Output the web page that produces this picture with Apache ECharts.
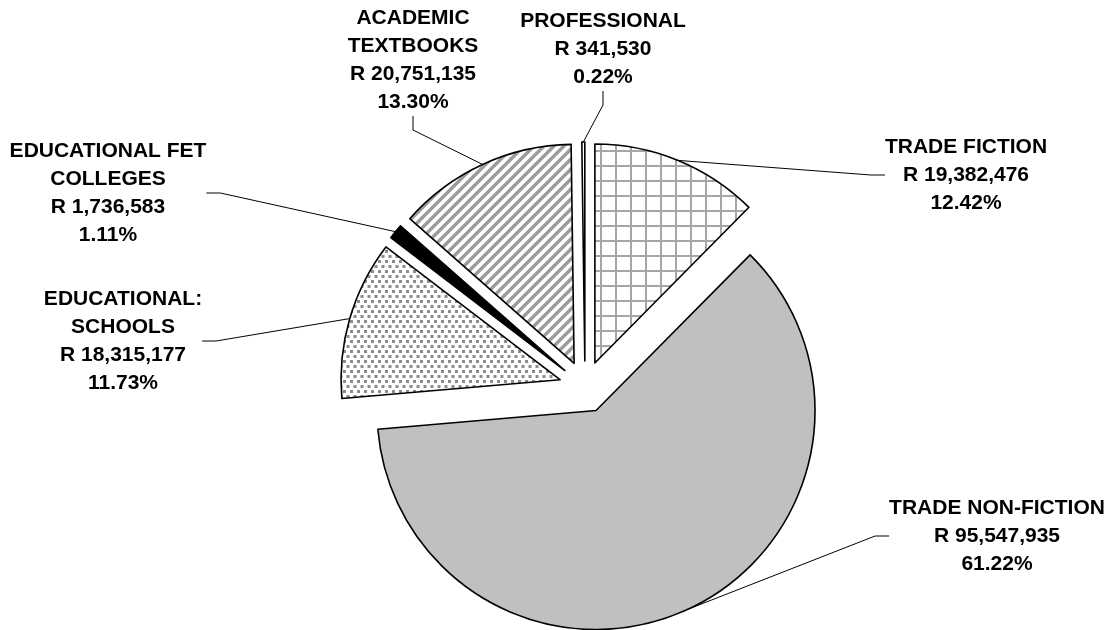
<!DOCTYPE html>
<html>
<head>
<meta charset="utf-8">
<script src="https://cdn.jsdelivr.net/npm/echarts@6/dist/echarts.min.js"></script>
<style>
html,body{margin:0;padding:0;background:#fff;}
#chart{width:1112px;height:630px;}
</style>
</head>
<body>
<div id="chart"></div>
<script>
// ---- data ----
var categories = ['TRADE FICTION', 'TRADE NON-FICTION', 'EDUCATIONAL:\nSCHOOLS', 'EDUCATIONAL FET\nCOLLEGES', 'ACADEMIC\nTEXTBOOKS', 'PROFESSIONAL'];
var values = [19382476, 95547935, 18315177, 1736583, 20751135, 341530];

// ---- styles (patterns) ----
function makeTile(w, h, draw) {
  var c = document.createElement('canvas');
  c.width = w; c.height = h;
  var ctx = c.getContext('2d');
  ctx.fillStyle = '#fff';
  ctx.fillRect(0, 0, w, h);
  draw(ctx, w, h);
  return { image: c, repeat: 'repeat' };
}
var gridPattern = makeTile(15, 15, function (ctx, w, h) {
  ctx.fillStyle = '#a6a6a6';
  ctx.fillRect(0, 0, 2, h);
  ctx.fillRect(0, 0, w, 2);
});
var dotPattern = makeTile(7, 10, function (ctx) {
  ctx.fillStyle = '#8c8c8c';
  ctx.fillRect(0, 0, 3, 3);
  ctx.fillRect(3.5, 5, 3, 3);
});
var stripePattern = makeTile(10, 10, function (ctx) {
  ctx.strokeStyle = '#9c9c9c';
  ctx.lineWidth = 3.4;
  ctx.beginPath();
  ctx.moveTo(-5, 15); ctx.lineTo(15, -5);
  ctx.moveTo(-15, 15); ctx.lineTo(5, -5);
  ctx.moveTo(5, 15); ctx.lineTo(25, -5);
  ctx.stroke();
});
var fills = [gridPattern, '#c0c0c0', dotPattern, '#000000', stripePattern, '#ffffff'];

// layout
var pieCenter = [585, 387];
var pieRadius = 219;
var explode = 26;
var labelPos = [[966, 175], [997, 536], [123, 341], [108, 193], [413, 60], [603, 49]];

var total = values.reduce(function (a, b) { return a + b; }, 0);
var cum = 0;
var midAngles = values.map(function (v) {
  var m = (cum + v / 2) / total * 2 * Math.PI;
  cum += v;
  return m;
});

var labelStyle = {
  show: true,
  position: 'outside',
  color: '#000',
  fontFamily: 'Liberation Sans, Arial, sans-serif',
  fontWeight: 'bold',
  fontSize: 21,
  lineHeight: 28,
  align: 'center',
  formatter: function (p) {
    return p.name + '\nR ' + p.value.toLocaleString('en-US') + '\n' + (p.value / total * 100).toFixed(2) + '%';
  }
};

var series = categories.map(function (_, k) {
  var data = categories.map(function (n, i) {
    var own = i === k;
    return {
      name: n,
      value: values[i],
      itemStyle: own ? { color: fills[i], borderColor: '#000', borderWidth: 1.6 }
                     : { color: 'rgba(0,0,0,0)', borderWidth: 0 },
      label: own ? labelStyle : { show: false },
      labelLine: own ? { show: true, length: 10, length2: 14, lineStyle: { color: '#000', width: 1 } } : { show: false }
    };
  });
  return {
    type: 'pie',
    silent: true,
    center: [pieCenter[0] + explode * Math.sin(midAngles[k]), pieCenter[1] - explode * Math.cos(midAngles[k])],
    radius: pieRadius,
    startAngle: 90,
    clockwise: true,
    avoidLabelOverlap: false,
    emphasis: { disabled: true },
    data: data,
    labelLayout: function (params) {
      if (params.dataIndex !== k) return {};
      var pos = labelPos[k];
      return { x: pos[0], y: pos[1], align: 'center', verticalAlign: 'middle' };
    }
  };
});

var chart = echarts.init(document.getElementById('chart'), null, { renderer: 'canvas' });
chart.setOption({
  backgroundColor: '#ffffff',
  animation: false,
  series: series
});
</script>
</body>
</html>
